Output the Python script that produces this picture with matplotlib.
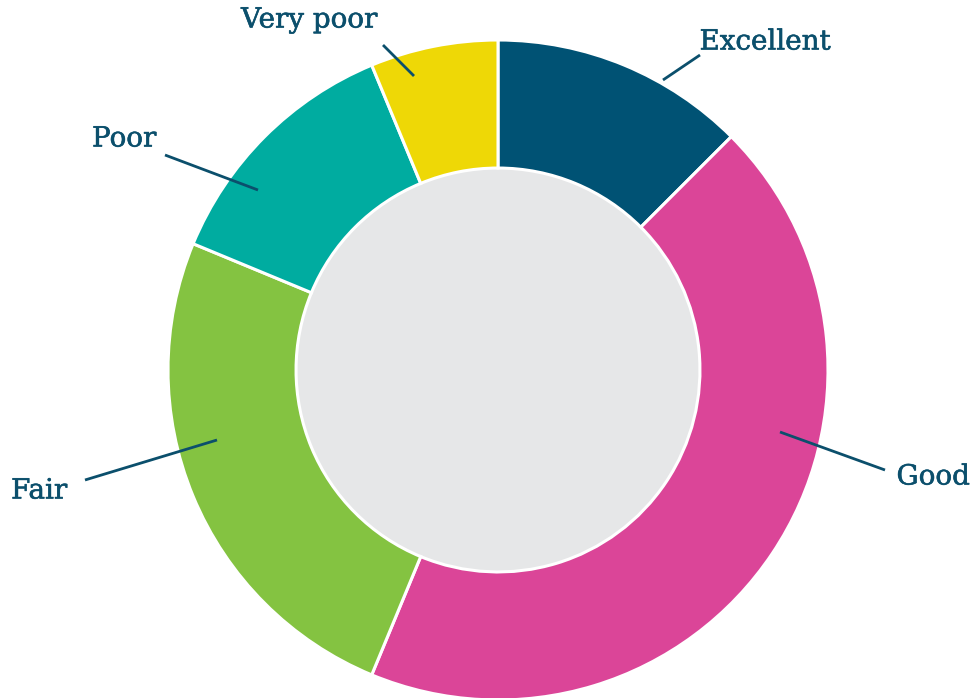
import matplotlib.pyplot as plt
import matplotlib.patheffects as pe
from matplotlib.patches import Circle

# ratings, share of responses (sixteenths)
labels = ["Excellent", "Good", "Fair", "Poor", "Very poor"]
values = [2, 7, 4, 2, 1]
colors = ["#005274", "#db4598", "#84c341", "#00aca0", "#eed806"]

text_color = "#0b4f6c"

W, H = 977, 698
CX, CY, R = 498, 370, 330


def px(x, y):
    # pixel position -> data units (centre at 0, radius 1)
    return ((x - CX) / R, (CY - y) / R)


# leader lines: (start on ring, end near text, text centre)
callouts = {
    "Excellent": ((663, 80), (700, 55), (765, 42)),
    "Good": ((780, 432), (885, 470), (933, 477)),
    "Fair": ((217, 440), (85, 480), (39, 491)),
    "Poor": ((258, 190), (165, 155), (124, 139)),
    "Very poor": ((414, 76), (383, 45), (309, 20)),
}

fig = plt.figure(figsize=(W / 100, H / 100), dpi=100)
ax = fig.add_axes([0, 0, 1, 1])

ax.add_patch(Circle((0, 0), 0.612, facecolor="#e6e7e8", edgecolor="none", zorder=0))
ax.pie(values, colors=colors, startangle=90, counterclock=False, radius=1,
       wedgeprops=dict(width=0.388, edgecolor="white", linewidth=2.2))

for name in labels:
    p0, p1, t = callouts[name]
    ax.plot(*zip(px(*p0), px(*p1)), color=text_color, lw=2.0, solid_capstyle="butt", zorder=5)
    ax.text(*px(*t), name, ha="center", va="center", color=text_color,
            fontsize=20, family="DejaVu Serif",
            path_effects=[pe.withStroke(linewidth=0.4, foreground=text_color)])

ax.set_xlim(-CX / R, (W - CX) / R)
ax.set_ylim(-(H - CY) / R, CY / R)
ax.set_aspect("equal")
ax.axis("off")

fig.savefig("out.png", dpi=100)
